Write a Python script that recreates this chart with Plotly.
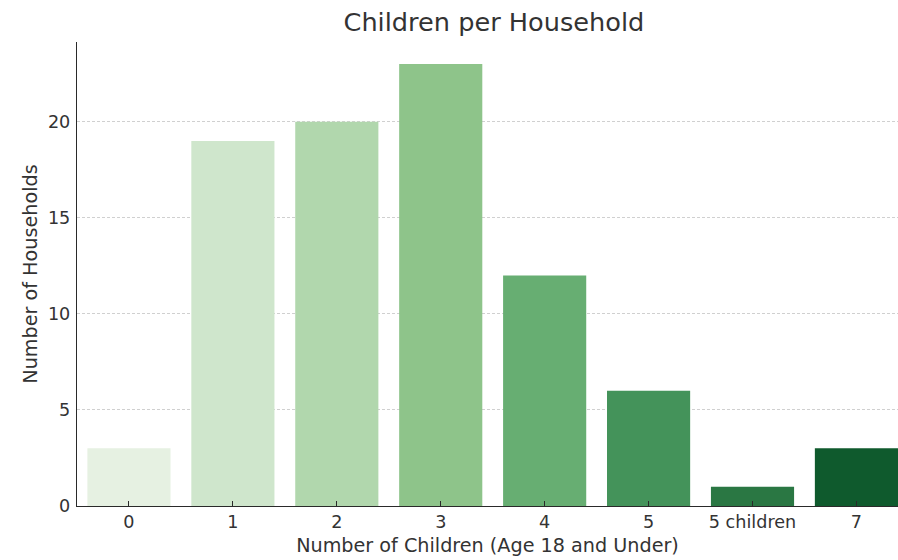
import plotly.graph_objects as go

categories = ["0", "1", "2", "3", "4", "5", "5 children", "7"]
households = [3, 19, 20, 23, 12, 6, 1, 3]
bar_colors = ["#e6f1e2", "#cfe6cc", "#b1d7ad", "#8ec48a", "#67ae72", "#44935a", "#2a7743", "#0f5a2d"]
y_ticks = [0, 5, 10, 15, 20]

fig = go.Figure(go.Bar(
    x=categories, y=households, marker=dict(color=bar_colors, line=dict(width=0)),
    width=0.8,
))

font_family = "DejaVu Sans"
W, H = 898, 560
fig.update_layout(
    width=W, height=H,
    margin=dict(l=77, r=0, t=42, b=54),
    paper_bgcolor="white", plot_bgcolor="white",
    title=dict(text="Children per Household", x=0.550, xanchor="center",
               yref="container", y=1 - 22 / H, yanchor="middle",
               font=dict(family=font_family, size=25.6, color="#333333")),
    font=dict(family=font_family, color="#333333"),
    showlegend=False,
    bargap=0.2,
)
fig.update_xaxes(
    type="category", range=[-0.5, 7.4],
    showline=True, linecolor="#2a2a2a", linewidth=1.4,
    ticks="inside", ticklen=5, tickcolor="#2a2a2a", tickwidth=1,
    tickfont=dict(size=17.6, family=font_family, color="#333333"),
    title=dict(text="Number of Children (Age 18 and Under)",
               font=dict(size=19.2, family=font_family, color="#333333"), standoff=7),
    showgrid=False,
)
fig.update_yaxes(
    range=[0, 24.15], tickvals=y_ticks,
    showline=True, linecolor="#2a2a2a", linewidth=1.4,
    ticks="", ticklabelstandoff=2,
    tickfont=dict(size=17.6, family=font_family, color="#333333"),
    title=dict(text="Number of Households",
               font=dict(size=19.2, family=font_family, color="#333333"), standoff=5),
    showgrid=True, gridcolor="#d0d0d0", griddash="3px,2px", gridwidth=0.8,
    zeroline=False,
)
fig.write_html("out.html", config={"displayModeBar": False},
               post_script="document.body.style.margin='0';document.body.style.overflow='hidden';")
